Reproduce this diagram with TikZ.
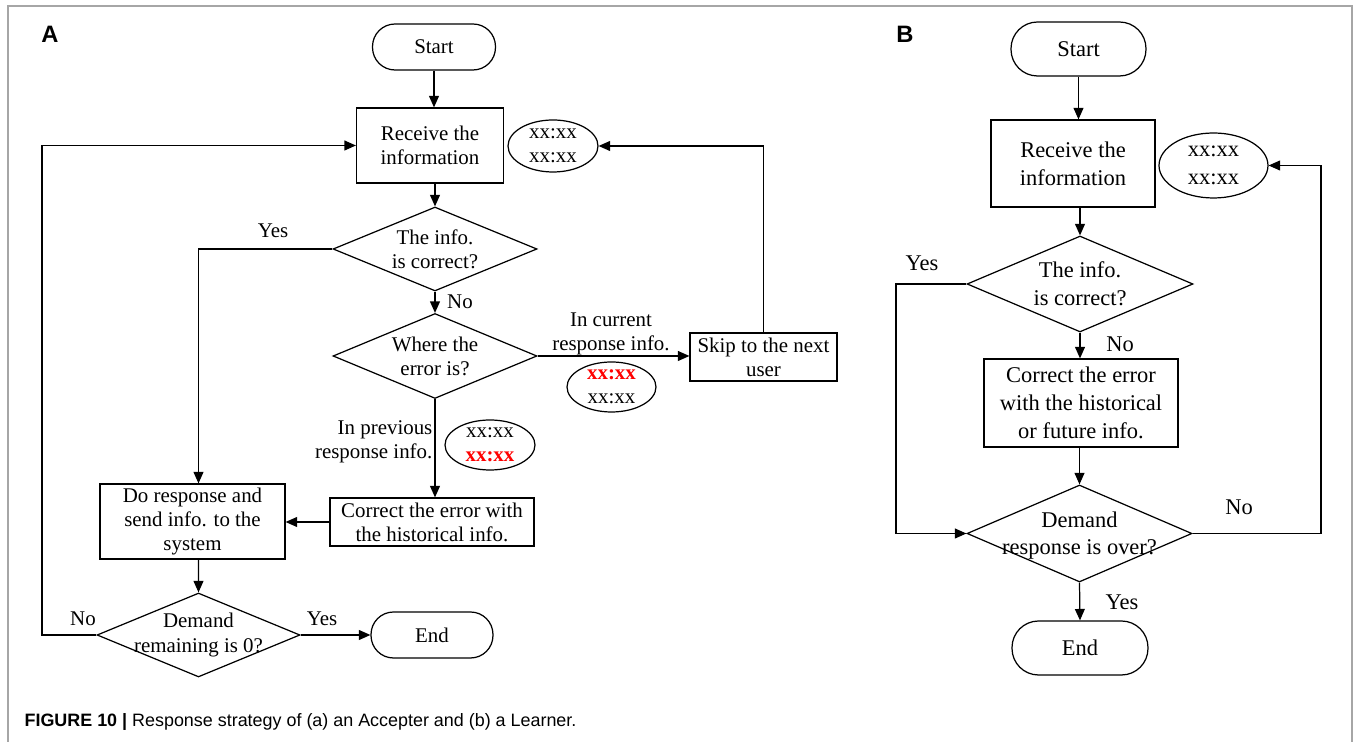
\documentclass[tikz,border=0pt]{standalone}
\usepackage{fontspec}
\setmainfont{Liberation Serif}
\newfontfamily\capfont{Liberation Sans}
\usetikzlibrary{shapes.geometric,arrows.meta,calc}

\begin{document}
\begin{tikzpicture}[x=0.02cm,y=-0.02cm,
  line width=0.7pt,
  arr/.style={-{Triangle[length=6.5pt,width=5.6pt]}},
  fa/.style={font=\fontsize{11.9}{13.7}\selectfont},
  fb/.style={font=\fontsize{12.8}{15.8}\selectfont},
  box/.style={draw, rectangle, align=center, inner sep=0pt},
  terma/.style={draw, rectangle, rounded corners=0.45cm, inner sep=0pt},
  termb/.style={draw, rectangle, rounded corners=0.53cm, inner sep=0pt},
  ell/.style={draw, ellipse, align=center, inner sep=0pt},
  dia/.style={draw, diamond, inner sep=0pt},
  lbl/.style={align=center, inner sep=0pt},
  panel/.style={font=\capfont\bfseries\fontsize{13.5}{16}\selectfont},
]
\useasboundingbox (0,0) rectangle (1356,742);
% outer frame
\draw[gray!70, line width=0.6pt] (8,742) -- (8,6) -- (1352,6) -- (1352,742);

% ---------------- Panel A ----------------
\node[panel] (pa) at (50,34) {A};

\node[fa, terma, minimum width=2.46cm, minimum height=0.92cm] (sa) at (434,47) {Start};
\node[fa, box, minimum width=2.94cm, minimum height=1.5cm] (ra) at (430,145.5) {Receive the\\information};
\node[fa, ell, minimum width=1.8cm, minimum height=1.04cm] (ea1) at (553,146) {xx:xx\\xx:xx};

\node[dia, minimum width=4.08cm, minimum height=1.68cm] (da1) at (435,249) {};
\node[fa, lbl] (da1t) at (da1) {The info.\\is correct?};

\node[dia, minimum width=4.08cm, minimum height=1.7cm] (da2) at (435,356) {};
\node[fa, lbl] (da2t) at (da2) {Where the\\error is?};

\node[fa, box, minimum width=2.94cm, minimum height=0.96cm] (ska) at (763.5,357) {Skip to the next\\user};
\node[fa, ell, minimum width=1.78cm, minimum height=1.0cm] (ea2) at (611.5,387) {{\color{red}\bfseries xx:xx}\\xx:xx};
\node[fa, ell, minimum width=1.8cm, minimum height=1.0cm] (ea3) at (490,445) {xx:xx\\{\color{red}\bfseries xx:xx}};

\node[fa, box, minimum width=4.08cm, minimum height=0.96cm] (ca) at (432,522) {Correct the error with\\the historical info.};
\node[fa, box, minimum width=3.7cm, minimum height=1.5cm] (doa) at (192.5,521.5) {Do response and\\send info. to the\\system};

\node[dia, minimum width=4.06cm, minimum height=1.68cm] (da3) at (198.5,635) {};
\node[fa, lbl] (da3t) at (da3) {Demand\\remaining is 0?};

\node[fa, terma, minimum width=2.44cm, minimum height=0.92cm] (ena) at (432,635) {End};

\coordinate (la) at (42,635);

% connectors A
\draw[arr] (sa.south) -- (sa.south |- ra.north);
\draw[arr] (ra.south -| da1.north) -- (da1.north);
\draw[arr] (da1.south) -- (da2.north);
\draw[arr] (da2.east) -- (da2.east -| ska.west);
\draw[arr] (ska.north) |- (ea1.east);
\draw[arr] (da2.south) -- (da2.south |- ca.north);
\draw[arr] (ca.west) -- (ca.west -| doa.east);
\draw[arr] (da1.west) -| ([xshift=0.12cm]doa.north);
\draw[arr] ([xshift=0.12cm]doa.south) -- (da3.north);
\draw[arr] (da3.east) -- (ena.west);
\draw[arr] (da3.west) -- (la) |- (ra.west);

% labels A
\node[fa, lbl] (ya1) at (273,231) {Yes};
\node[fa, lbl] (na1) at (460,302) {No};
\node[fa, lbl] (cur) at (611,334) {In current\\response info.};
\node[fa, lbl, align=right, anchor=east] (prev) at (433,442) {In previous\\response info.};
\node[fa, lbl] (na3) at (83,619) {No};
\node[fa, lbl] (ya3) at (322,619) {Yes};

% ---------------- Panel B ----------------
\node[panel] (pb) at (905,34) {B};

\node[fb, termb, minimum width=2.7cm, minimum height=1.08cm] (sb) at (1078.5,49) {Start};
\node[fb, box, minimum width=3.28cm, minimum height=1.74cm] (rb) at (1073,163.5) {Receive the\\information};
\node[fb, ell, minimum width=2.18cm, minimum height=1.3cm] (eb) at (1213.5,165.5) {xx:xx\\xx:xx};

\node[dia, minimum width=4.52cm, minimum height=1.92cm] (db1) at (1080,284) {};
\node[fb, lbl] (db1t) at (db1) {The info.\\is correct?};

\node[fb, box, minimum width=3.88cm, minimum height=1.76cm] (cb) at (1081,403) {Correct the error\\with the historical\\or future info.};

\node[dia, minimum width=4.5cm, minimum height=1.94cm] (db2) at (1079.5,533.5) {};
\node[fb, lbl] (db2t) at ([yshift=-0.04cm]db2) {Demand\\response is over?};

\node[fb, termb, minimum width=2.72cm, minimum height=1.08cm] (enb) at (1080,648) {End};

\coordinate (lb) at (896,284);
\coordinate (rbk) at (1321,533.5);

% connectors B
\draw[arr] (sb.south) -- (sb.south |- rb.north);
\draw[arr] (rb.south -| db1.north) -- (db1.north);
\draw[arr] (db1.south) -- (db1.south |- cb.north);
\draw[arr] (cb.south -| db2.north) -- (db2.north);
\draw[arr] (db1.west) -- (lb) |- (db2.west);
\draw[arr] (db2.east) -- (rbk) |- (eb.east);
\draw[arr] (db2.south) -- (enb.north);

% labels B
\node[fb, lbl] (yb1) at (922,263) {Yes};
\node[fb, lbl] (nb1) at (1120,344) {No};
\node[fb, lbl] (nb2) at (1239,507) {No};
\node[fb, lbl] (yb2) at (1122,602) {Yes};

% ---------------- Caption ----------------
\node[anchor=base west, inner sep=0pt, font=\capfont\fontsize{10.2}{12}\selectfont] (cap) at (24,727)
  {\textbf{FIGURE 10 |} Response strategy of (a) an Accepter and (b) a Learner.};
\end{tikzpicture}
\end{document}
